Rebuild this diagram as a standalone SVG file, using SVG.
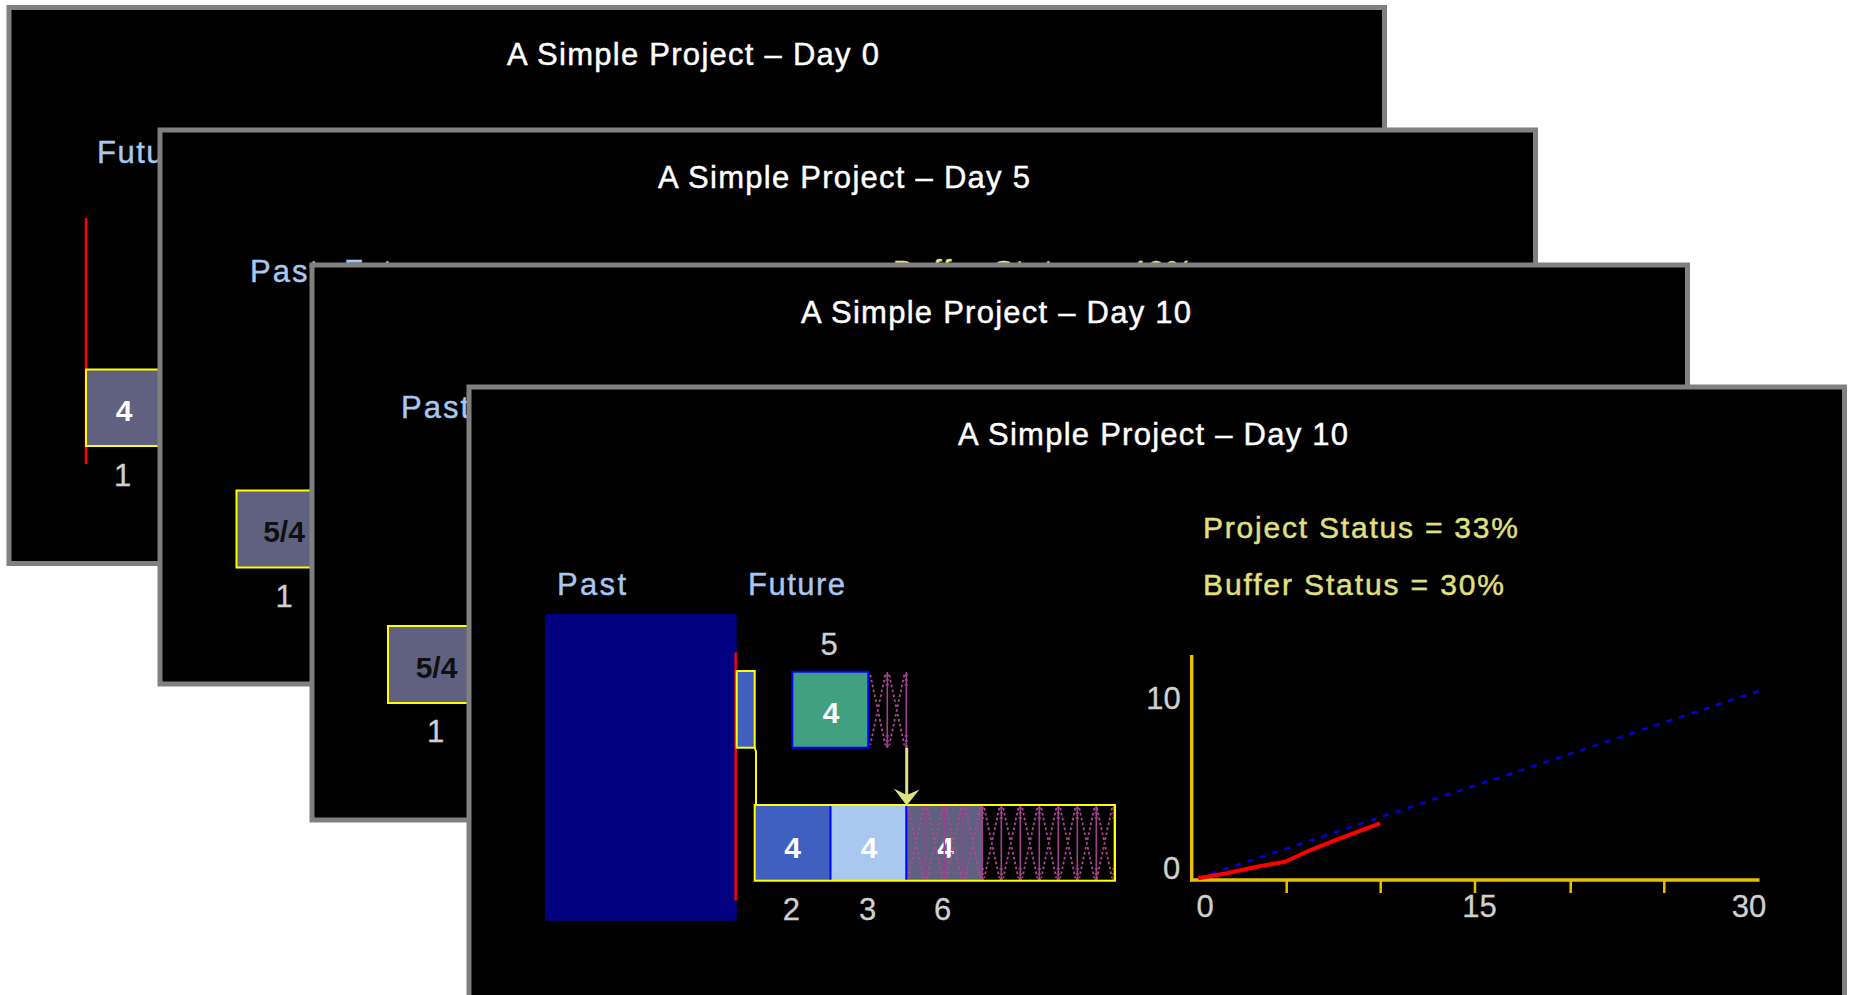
<svg xmlns="http://www.w3.org/2000/svg" xmlns:xlink="http://www.w3.org/1999/xlink" width="1852" height="995" viewBox="0 0 1852 995">
  <style>
    text { font-family: "Liberation Sans", Arial, sans-serif; }
    .slide { fill: #000000; stroke: #808080; stroke-width: 5; }
    .title { fill: #ffffff; stroke: #ffffff; stroke-width: 0.45; font-size: 31px; text-anchor: middle; }
    .phase { fill: #a8c8f0; stroke: #a8c8f0; stroke-width: 0.4; font-size: 31px; }
    .stat { fill: #e0e080; stroke: #e0e080; stroke-width: 0.45; font-size: 30px; }
    .num { fill: #d0d0d0; stroke: #d0d0d0; stroke-width: 0.3; font-size: 31px; text-anchor: middle; }
    .dur { fill: #ffffff; font-size: 30px; font-weight: bold; text-anchor: middle; }
    .dur-dark { fill: #101010; font-size: 30px; font-weight: bold; text-anchor: middle; }
    .task { stroke: #ffff00; stroke-width: 2; }
    .slate { fill: #606080; }
    .today { stroke: #ff0000; stroke-width: 2.5; }
    .axis { stroke: #e6c000; stroke-width: 3.5; fill: none; }
    .tick { stroke: #e6c000; stroke-width: 2.5; }
  </style>
  <defs>
    <!-- one column of buffer hatching: 19 x 76 -->
    <g id="buf-col">
      <line x1="19" y1="0" x2="19" y2="76" stroke="#a04090" stroke-width="1.6"/>
      <path d="M17.3,3h3.4M17.3,8h3.4M17.3,13h3.4M17.3,64h3.4M17.3,69h3.4M17.3,74h3.4" stroke="#a04090" stroke-width="1.6"/>
      <path d="M2,3 L17,73 M17,3 L2,73" stroke="#b04898" stroke-width="1.8" stroke-dasharray="2.5 2.5" fill="none"/>
    </g>
  </defs>

  <rect x="0" y="0" width="1852" height="995" fill="#ffffff"/>

  <!-- Day 0 -->
  <g id="slide-day0">
    <rect class="slide" x="9" y="7.5" width="1375.5" height="556"/>
    <text class="title" x="693" y="65" textLength="372" lengthAdjust="spacing">A Simple Project – Day 0</text>
    <text class="phase" x="97" y="162.5" textLength="97" lengthAdjust="spacing">Future</text>
    <line class="today" x1="86" y1="218" x2="86" y2="464"/>
    <g id="day0-task1">
      <rect class="task slate" x="86" y="369.5" width="76" height="76.5"/>
      <text class="dur" x="124" y="421">4</text>
      <text class="num" x="122.5" y="485.5">1</text>
    </g>
  </g>

  <!-- Day 5 -->
  <g id="slide-day5">
    <rect class="slide" x="160" y="130" width="1375.5" height="554"/>
    <text class="title" x="844" y="187.5" textLength="372" lengthAdjust="spacing">A Simple Project – Day 5</text>
    <text class="phase" x="250" y="281.5" textLength="68" lengthAdjust="spacing">Past</text>
    <text class="phase" x="344" y="281.5" textLength="97" lengthAdjust="spacing">Future</text>
    <text class="stat" x="893" y="281" textLength="300" lengthAdjust="spacing">Buffer Status = 40%</text>
    <g id="day5-task1">
      <rect class="task slate" x="236.5" y="490.5" width="95" height="77"/>
      <text class="dur-dark" x="284" y="542">5/4</text>
      <text class="num" x="284" y="606.5">1</text>
    </g>
  </g>

  <!-- Day 10, first view -->
  <g id="slide-day10a">
    <rect class="slide" x="312" y="265" width="1375.5" height="555"/>
    <text class="title" x="996" y="322.5" textLength="390" lengthAdjust="spacing">A Simple Project – Day 10</text>
    <text class="phase" x="401" y="418" textLength="68" lengthAdjust="spacing">Past</text>
    <g id="day10a-task1">
      <rect class="task slate" x="388" y="626" width="95" height="77"/>
      <text class="dur-dark" x="436.5" y="678">5/4</text>
      <text class="num" x="435.5" y="741.5">1</text>
    </g>
  </g>

  <!-- Day 10, full view -->
  <g id="slide-day10">
    <rect class="slide" x="469" y="387" width="1375.5" height="611"/>
    <text class="title" x="1153" y="444.5" textLength="390" lengthAdjust="spacing">A Simple Project – Day 10</text>
    <text class="stat" x="1203" y="538" textLength="315" lengthAdjust="spacing">Project Status = 33%</text>
    <text class="stat" x="1203" y="594.5" textLength="301" lengthAdjust="spacing">Buffer Status = 30%</text>
    <text class="phase" x="557" y="594.5" textLength="69" lengthAdjust="spacing">Past</text>
    <text class="phase" x="748" y="594.5" textLength="97" lengthAdjust="spacing">Future</text>

    <g id="past-block">
      <rect x="545" y="614" width="191.7" height="306.7" rx="2" fill="#000080"/>
    </g>
    <line class="today" x1="735.7" y1="652.5" x2="735.7" y2="900.5"/>

    <g id="task-1-remaining">
      <rect class="task" x="736.7" y="671" width="18" height="76.7" fill="#4060c0"/>
    </g>

    <g id="task-5">
      <text class="num" x="829" y="655">5</text>
      <rect x="792.3" y="671.7" width="76" height="76" fill="#40a080" stroke="#0000ff" stroke-width="2"/>
      <text class="dur" x="831" y="723">4</text>
    </g>
    <g id="feeding-buffer">
      <use xlink:href="#buf-col" x="868.3" y="672"/>
      <use xlink:href="#buf-col" x="887.3" y="672"/>
    </g>

    <g id="critical-chain">
      <rect x="754.7" y="805" width="360.3" height="75.7" fill="#000000"/>
      <g id="task-2">
        <rect x="754.7" y="805" width="75.8" height="75.7" fill="#4060c0"/>
        <text class="dur" x="792.7" y="858">4</text>
        <text class="num" x="791.3" y="920">2</text>
      </g>
      <g id="task-3">
        <rect x="830.5" y="805" width="75.8" height="75.7" fill="#a8c8f0"/>
        <text class="dur" x="869" y="858">4</text>
        <text class="num" x="867.7" y="920">3</text>
      </g>
      <g id="task-6">
        <rect class="slate" x="906.3" y="805" width="76.7" height="75.7"/>
        <text class="dur" x="945.3" y="858">4</text>
        <text class="num" x="942.7" y="920">6</text>
      </g>
      <g id="project-buffer">
        <use xlink:href="#buf-col" x="906.3" y="805"/>
        <use xlink:href="#buf-col" x="925.3" y="805"/>
        <use xlink:href="#buf-col" x="944.3" y="805"/>
        <use xlink:href="#buf-col" x="963.3" y="805"/>
        <use xlink:href="#buf-col" x="982.3" y="805"/>
        <use xlink:href="#buf-col" x="1001.3" y="805"/>
        <use xlink:href="#buf-col" x="1020.3" y="805"/>
        <use xlink:href="#buf-col" x="1039.3" y="805"/>
        <use xlink:href="#buf-col" x="1058.3" y="805"/>
        <use xlink:href="#buf-col" x="1077.3" y="805"/>
        <use xlink:href="#buf-col" x="1095" y="805"/>
      </g>
      <line x1="830.5" y1="805" x2="830.5" y2="880.7" stroke="#0000ff" stroke-width="2"/>
      <line x1="906.3" y1="805" x2="906.3" y2="880.7" stroke="#0000ff" stroke-width="2"/>
      <rect x="754.7" y="805" width="360.3" height="75.7" fill="none" stroke="#ffff00" stroke-width="2"/>
    </g>

    <g id="fever-chart">
      <line class="axis" x1="1191.7" y1="655" x2="1191.7" y2="881.5"/>
      <line class="axis" x1="1190" y1="880" x2="1759.5" y2="880"/>
      <line class="tick" x1="1286.7" y1="880" x2="1286.7" y2="893"/>
      <line class="tick" x1="1380.7" y1="880" x2="1380.7" y2="893"/>
      <line class="tick" x1="1475" y1="880" x2="1475" y2="893"/>
      <line class="tick" x1="1570.7" y1="880" x2="1570.7" y2="893"/>
      <line class="tick" x1="1664.3" y1="880" x2="1664.3" y2="893"/>
      <text class="num" x="1163.5" y="709">10</text>
      <text class="num" x="1171.5" y="879">0</text>
      <text class="num" x="1205" y="917">0</text>
      <text class="num" x="1479.6" y="917">15</text>
      <text class="num" x="1749" y="917">30</text>
      <line x1="1198" y1="878" x2="1758.5" y2="691" stroke="#0000e0" stroke-width="2.4" stroke-dasharray="6 7"/>
      <polyline points="1198.3,878.3 1226.7,873.3 1256.7,866.7 1285,861.7 1306.7,851.7 1340,838.3 1380,823.3" fill="none" stroke="#ff0000" stroke-width="4" stroke-linejoin="round"/>
    </g>
  </g>

  <!-- links between tasks -->
  <g id="connectors">
    <polyline points="754.7,747.7 756,751.5 756,805" fill="none" stroke="#ffff00" stroke-width="2"/>
    <line x1="906.7" y1="747.7" x2="906.7" y2="796" stroke="#e0e080" stroke-width="3"/>
    <polygon points="906.7,805.5 893.7,788.5 906.7,795 919.5,789.5" fill="#e0e080"/>
  </g>
</svg>
